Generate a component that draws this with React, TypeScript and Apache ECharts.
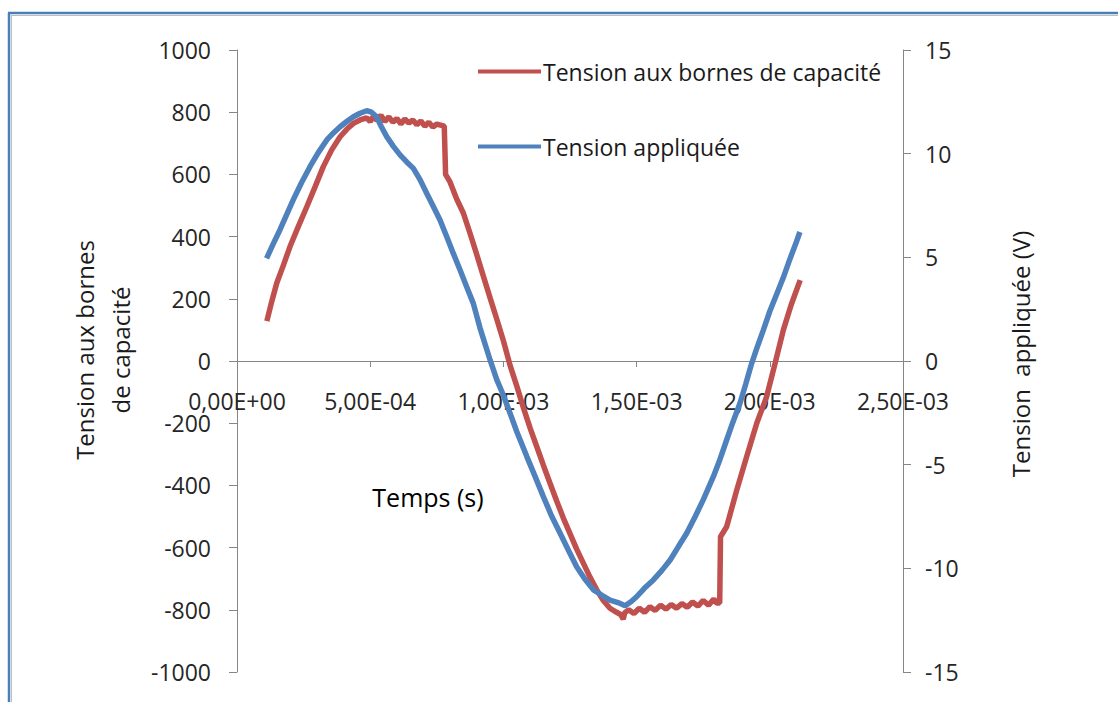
import React, { useEffect, useRef } from "react";
import * as echarts from "echarts";

const capTime = [
  1.12e-4, 1.3e-4, 1.49e-4, 1.75e-4, 1.99e-4, 2.3e-4, 2.62e-4, 2.93e-4, 3.24e-4, 3.55e-4,
  3.87e-4, 4.12e-4, 4.37e-4, 4.62e-4, 4.87e-4, 5.0e-4, 5.1e-4, 5.25e-4, 5.4e-4, 5.55e-4,
  5.7e-4, 5.85e-4, 6.0e-4, 6.15e-4, 6.3e-4, 6.45e-4, 6.6e-4, 6.75e-4, 6.9e-4, 7.05e-4,
  7.2e-4, 7.35e-4, 7.5e-4, 7.78e-4, 7.83e-4, 8.0e-4, 8.25e-4, 8.5e-4, 8.75e-4, 9.0e-4,
  9.25e-4, 9.5e-4, 9.75e-4, 1.0e-3, 1.025e-3, 1.05e-3, 1.075e-3, 1.1e-3, 1.125e-3, 1.15e-3,
  1.175e-3, 1.2e-3, 1.225e-3, 1.25e-3, 1.275e-3, 1.3e-3, 1.325e-3, 1.35e-3, 1.375e-3, 1.4e-3,
  1.425e-3, 1.44e-3, 1.45e-3, 1.455e-3, 1.47e-3, 1.49e-3, 1.51e-3, 1.53e-3, 1.55e-3, 1.57e-3,
  1.59e-3, 1.61e-3, 1.63e-3, 1.65e-3, 1.67e-3, 1.69e-3, 1.71e-3, 1.73e-3, 1.75e-3, 1.77e-3,
  1.79e-3, 1.8e-3, 1.812e-3, 1.815e-3, 1.838e-3, 1.876e-3, 1.913e-3, 1.951e-3, 1.988e-3, 2.02e-3,
  2.051e-3, 2.08e-3, 2.114e-3,
];
const capVolt = [
  128, 190, 250, 310, 368, 432, 496, 560, 625, 678,
  721, 745, 764, 775, 782, 770, 785, 775, 790, 770,
  785, 768, 780, 762, 778, 765, 775, 760, 772, 755,
  768, 752, 762, 755, 600, 575, 520, 475, 410, 342,
  272, 203, 135, 65, -14, -80, -150, -215, -275, -335,
  -393, -450, -505, -555, -605, -650, -695, -735, -770, -795,
  -808, -815, -830, -810, -800, -812, -795, -808, -790, -802,
  -785, -798, -783, -795, -780, -792, -775, -788, -770, -785,
  -765, -778, -778, -565, -533, -415, -308, -200, -115, -7,
  100, 180, 260,
];

const appTime = [
  1.11e-4, 1.36e-4, 1.61e-4, 1.86e-4, 2.11e-4, 2.42e-4, 2.74e-4, 3.05e-4, 3.37e-4, 3.62e-4,
  3.87e-4, 4.12e-4, 4.37e-4, 4.62e-4, 4.87e-4, 5.05e-4, 5.24e-4, 5.42e-4, 5.62e-4, 5.87e-4,
  6.12e-4, 6.37e-4, 6.62e-4, 6.87e-4, 7.12e-4, 7.37e-4, 7.62e-4, 7.87e-4, 8.12e-4, 8.37e-4,
  8.62e-4, 8.87e-4, 9.12e-4, 9.5e-4, 9.75e-4, 1.0e-3, 1.025e-3, 1.05e-3, 1.088e-3, 1.12e-3,
  1.15e-3, 1.18e-3, 1.213e-3, 1.245e-3, 1.275e-3, 1.305e-3, 1.338e-3, 1.37e-3, 1.4e-3, 1.43e-3,
  1.457e-3, 1.48e-3, 1.5e-3, 1.53e-3, 1.563e-3, 1.595e-3, 1.626e-3, 1.657e-3, 1.688e-3, 1.72e-3,
  1.75e-3, 1.788e-3, 1.81e-3, 1.838e-3, 1.86e-3, 1.888e-3, 1.91e-3, 1.932e-3, 1.955e-3, 1.976e-3,
  2.0e-3, 2.025e-3, 2.05e-3, 2.075e-3, 2.1e-3, 2.113e-3,
];
const appVolt = [
  4.95, 5.65, 6.32, 7.05, 7.77, 8.6, 9.37, 10.05, 10.66, 11.0,
  11.3, 11.55, 11.78, 11.95, 12.07, 12.0, 11.78, 11.3, 10.82, 10.35,
  9.94, 9.6, 9.29, 8.75, 8.09, 7.45, 6.8, 6.0, 5.19, 4.4,
  3.58, 2.78, 1.6, 0.05, -0.9, -1.65, -2.52, -3.4, -4.61, -5.6,
  -6.54, -7.45, -8.31, -9.15, -9.92, -10.5, -11.04, -11.3, -11.53, -11.65,
  -11.8, -11.6, -11.37, -10.95, -10.56, -10.1, -9.6, -8.95, -8.31, -7.5,
  -6.7, -5.58, -4.85, -3.81, -3.0, -2.04, -1.1, -0.11, 0.75, 1.5,
  2.4, 3.2, 4.0, 4.9, 5.75, 6.22,
];

const seriesNames = ["Tension aux bornes de capacité", "Tension appliquée"];
const xTitle = "Temps (s)";
const leftTitle = "Tension aux bornes\nde capacité";
const rightTitle = "Tension  appliquée (V)";

const FONT = "'Open Sans', sans-serif";

function sciLabel(v: number): string {
  const s = v.toExponential(2);
  const [m, e] = s.split("e");
  const sign = e[0] === "-" ? "-" : "+";
  const digits = e.replace(/^[+-]/, "").padStart(2, "0");
  return m.replace(".", ",") + "E" + sign + digits;
}

export default function App() {
  const ref = useRef<HTMLDivElement>(null);
  useEffect(() => {
    if (!ref.current) return;
    const chart = echarts.init(ref.current, undefined, { renderer: "svg" });
    const axisColor = "#868686";
    const labelColor = "#262626";
    const gridTop = 50;
    const gridBottom = 30;
    const plotH = 702 - gridTop - gridBottom;
    chart.setOption({
      animation: false,
      backgroundColor: "#ffffff",
      grid: {
        left: 237,
        right: 215,
        top: gridTop,
        bottom: gridBottom,
        containLabel: false,
        outerBoundsMode: "none",
      },
      legend: {
        orient: "vertical",
        left: 473,
        top: 55,
        icon: "rect",
        itemWidth: 63,
        itemHeight: 4,
        itemGap: 52,
        textStyle: { fontFamily: FONT, fontSize: 23, color: "#1a1a1a", padding: [0, 0, 0, -3] },
        data: seriesNames,
      },
      xAxis: {
        type: "value",
        min: 0,
        max: 2.5e-3,
        interval: 5e-4,
        position: "bottom",
        offset: -plotH / 2,
        axisLine: { onZero: false, lineStyle: { color: axisColor, width: 1 } },
        axisTick: { show: true, inside: false, length: 6, lineStyle: { color: axisColor } },
        axisLabel: {
          margin: 28,
          formatter: (v: number) => sciLabel(v),
          fontFamily: FONT,
          fontSize: 23,
          color: labelColor,
        },
        splitLine: { show: false },
      },
      yAxis: [
        {
          type: "value",
          min: -1000,
          max: 1000,
          interval: 200,
          position: "left",
          axisLine: { show: true, onZero: false, lineStyle: { color: axisColor } },
          axisTick: { show: true, length: 8, lineStyle: { color: axisColor } },
          axisLabel: {
            margin: 26,
            fontFamily: FONT,
            fontSize: 23,
            color: labelColor,
            formatter: (v: number) => String(v),
          },
          splitLine: { show: false },
        },
        {
          type: "value",
          min: -15,
          max: 15,
          interval: 5,
          position: "right",
          axisLine: { show: true, onZero: false, lineStyle: { color: axisColor } },
          axisTick: { show: true, length: 8, lineStyle: { color: axisColor } },
          axisLabel: {
            margin: 22,
            fontFamily: FONT,
            fontSize: 23,
            color: labelColor,
            formatter: (v: number) => String(v),
          },
          splitLine: { show: false },
        },
      ],
      series: [
        {
          name: seriesNames[0],
          type: "line",
          yAxisIndex: 0,
          showSymbol: false,
          symbol: "none",
          lineStyle: { color: "#C0504D", width: 5.5 },
          itemStyle: { color: "#C0504D" },
          data: capTime.map((t, i) => [t, capVolt[i]]),
        },
        {
          name: seriesNames[1],
          type: "line",
          yAxisIndex: 1,
          showSymbol: false,
          symbol: "none",
          lineStyle: { color: "#4F81BD", width: 5.5 },
          itemStyle: { color: "#4F81BD" },
          data: appTime.map((t, i) => [t, appVolt[i]]),
        },
      ],
      graphic: [
        { type: "line", shape: { x1: 8, y1: 13, x2: 1118, y2: 13 }, style: { stroke: "#4a7ebb", lineWidth: 2.5 } },
        { type: "line", shape: { x1: 9, y1: 13, x2: 9, y2: 702 }, style: { stroke: "#4a7ebb", lineWidth: 2.5 } },
        { type: "line", shape: { x1: 11, y1: 15.5, x2: 1118, y2: 15.5 }, style: { stroke: "#bdbdbd", lineWidth: 1 } },
        { type: "line", shape: { x1: 11.5, y1: 15, x2: 11.5, y2: 702 }, style: { stroke: "#bdbdbd", lineWidth: 1 } },
        {
          type: "text",
          x: 102,
          y: 350,
          rotation: Math.PI / 2,
          style: {
            text: leftTitle,
            fontFamily: FONT,
            fontSize: 24,
            lineHeight: 36,
            fill: "#1a1a1a",
            align: "center",
            verticalAlign: "middle",
          },
        },
        {
          type: "text",
          x: 1020,
          y: 354,
          rotation: Math.PI / 2,
          style: {
            text: rightTitle,
            fontFamily: FONT,
            fontSize: 24,
            fill: "#1a1a1a",
            align: "center",
            verticalAlign: "middle",
          },
        },
        {
          type: "text",
          x: 428,
          y: 497,
          style: {
            text: xTitle,
            fontFamily: FONT,
            fontSize: 25,
            fill: "#000000",
            align: "center",
            verticalAlign: "middle",
          },
        },
      ],
    });
    return () => chart.dispose();
  }, []);
  return (
    <div
      ref={ref}
      style={{ position: "fixed", left: 0, top: 0, width: 1118, height: 702, background: "#fff" }}
    />
  );
}
